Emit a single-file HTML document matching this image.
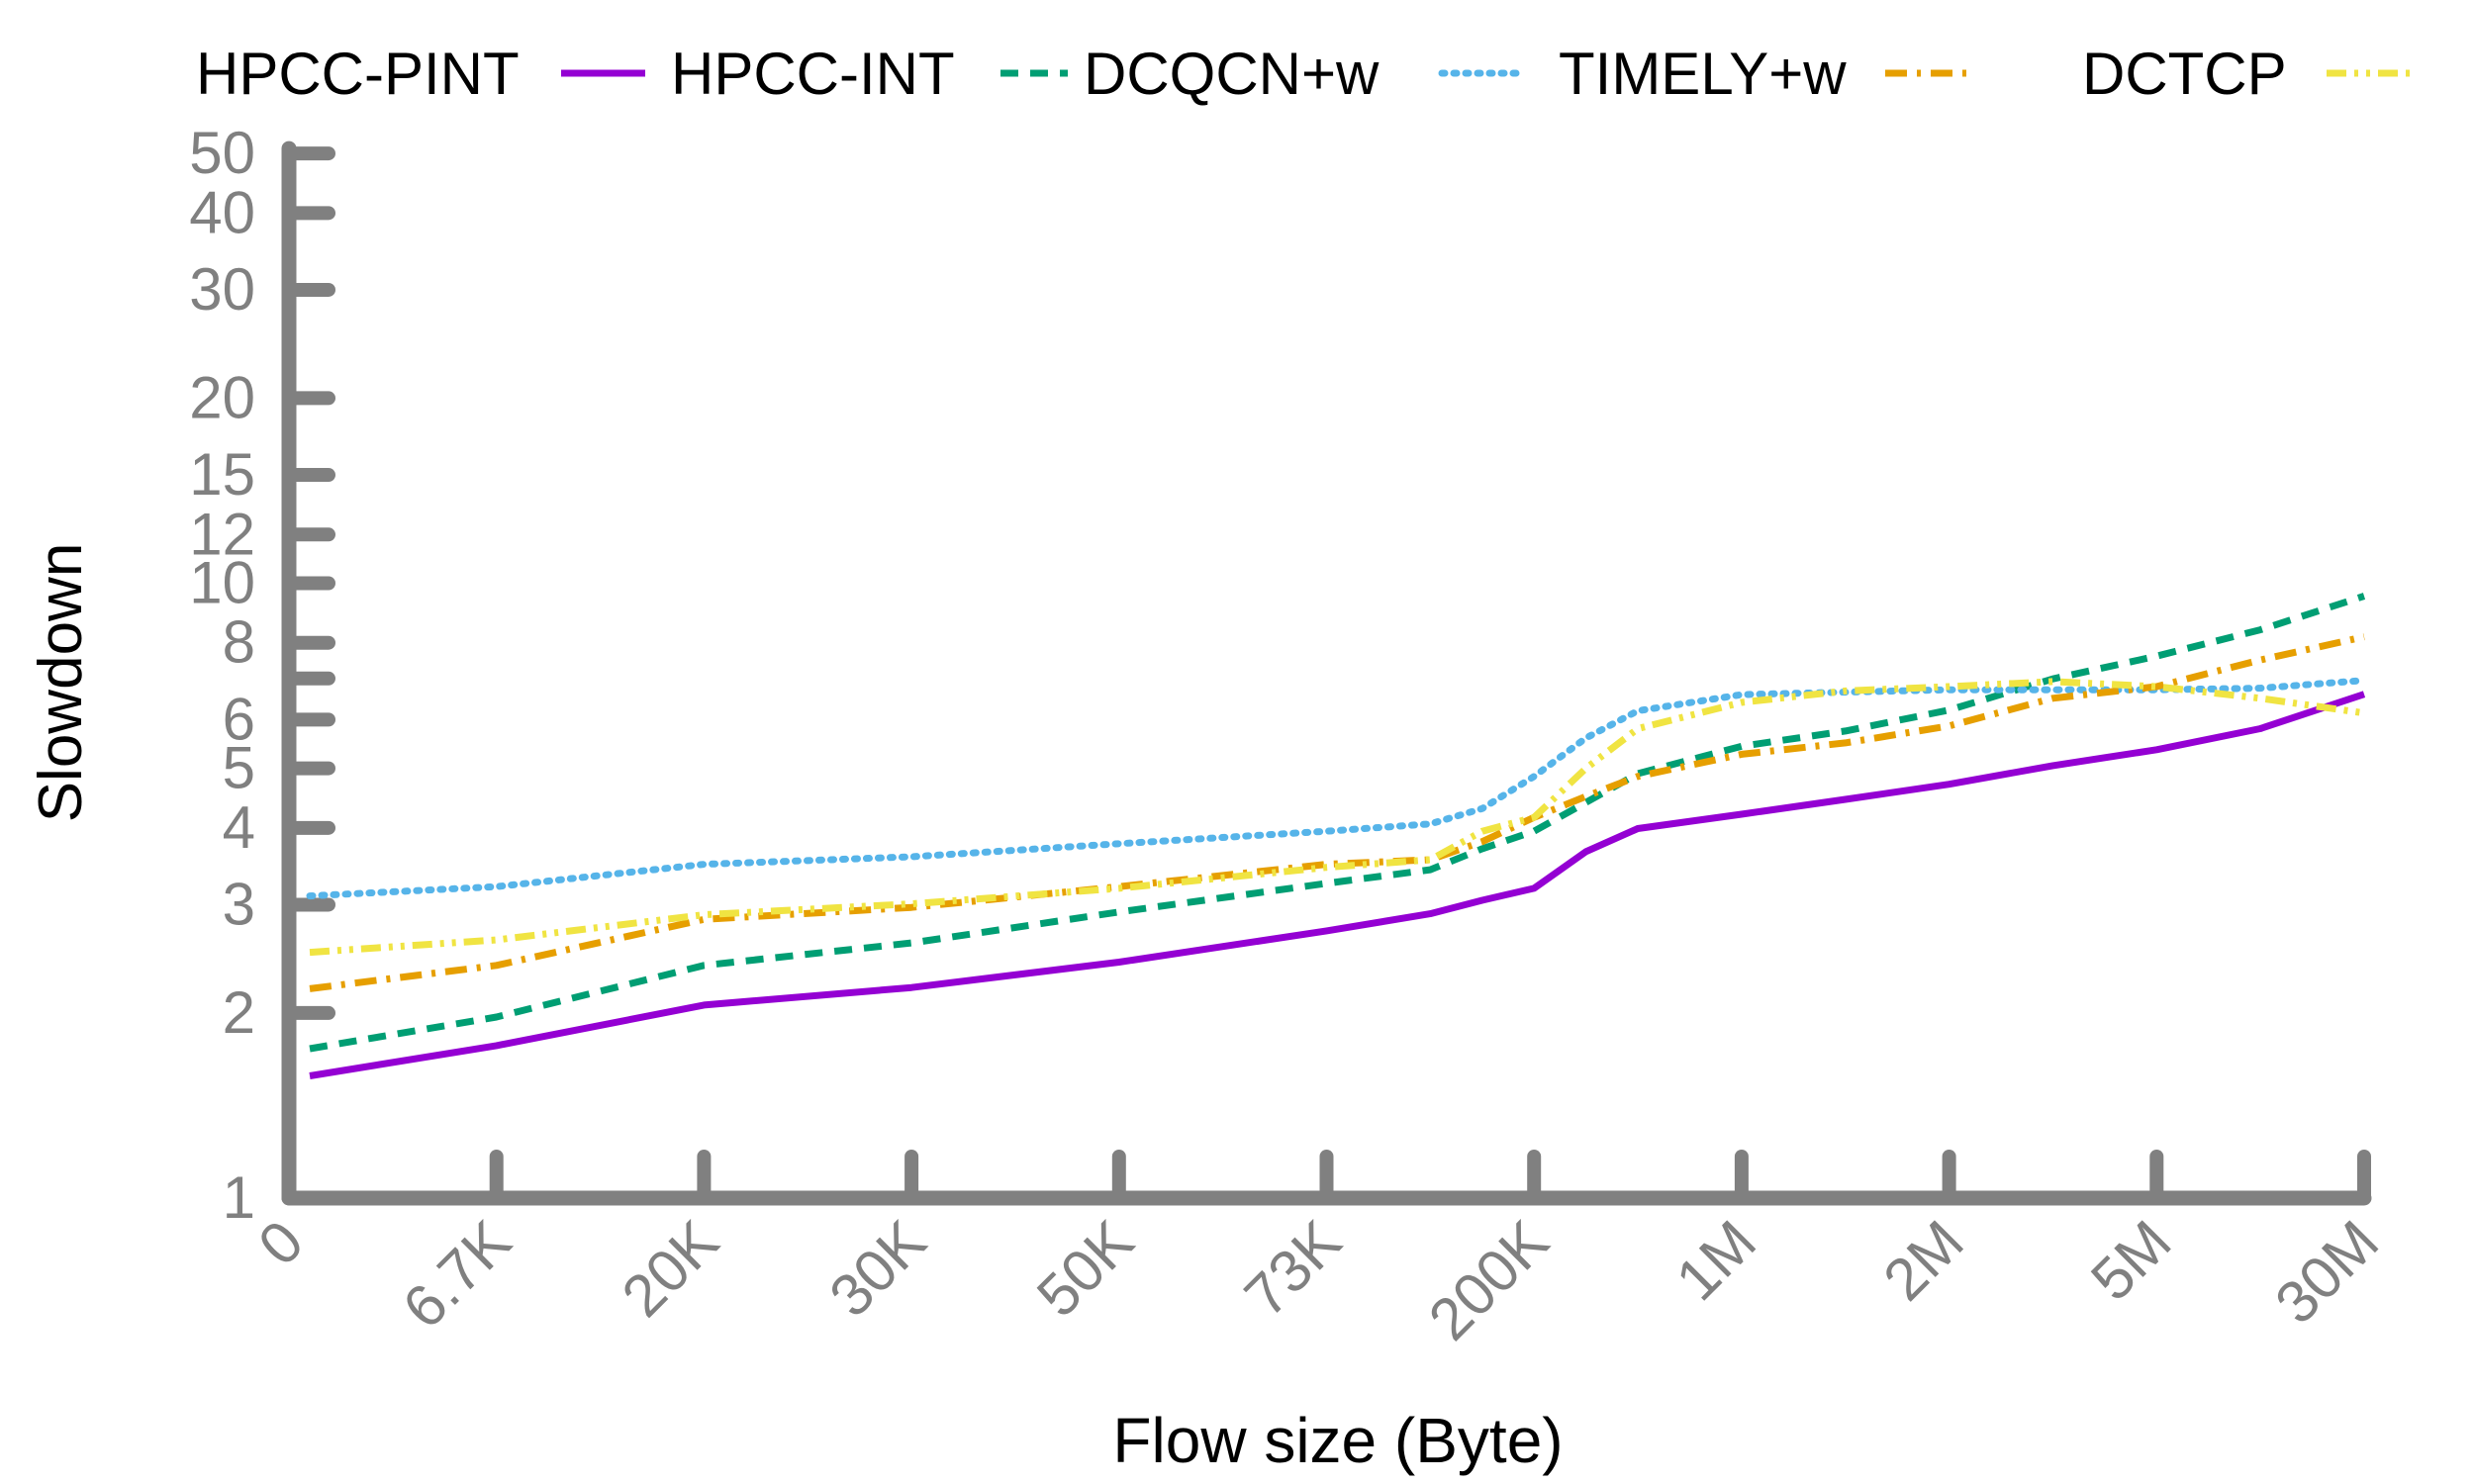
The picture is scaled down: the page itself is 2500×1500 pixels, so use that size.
<!DOCTYPE html>
<html><head><meta charset="utf-8"><style>
html,body{margin:0;padding:0;background:#fff;}
svg{display:block;font-family:"Liberation Sans",sans-serif;}
</style></head><body>
<svg id="chart" width="2500" height="1500" viewBox="0 0 2500 1500" xmlns="http://www.w3.org/2000/svg">
<g id="legend"></g>
<g id="axes"></g>
<g id="series"></g>
<text x="0" y="0" transform="translate(82,690) rotate(-90)" text-anchor="middle" font-size="62" fill="#000">Slowdown</text>
<text x="1352" y="1478" text-anchor="middle" font-size="64" fill="#000">Flow size (Byte)</text>
</svg>
<script>
const xTickLabels = ["0","6.7K","20K","30K","50K","73K","200K","1M","2M","5M","30M"];
const yTickValues = [1,2,3,4,5,6,7,8,10,12,15,20,30,40,50];
const yTickLabels = ["1","2","3","4","5","6","","8","10","12","15","20","30","40","50"];
const xPositions = [0.1,1,2,3,4,5,5.5,5.75,6,6.25,6.5,7,7.5,8,8.5,9,9.5,10];
const seriesNames = ["HPCC-PINT","HPCC-INT","DCQCN+w","TIMELY+w","DCTCP"];
const pintValues = [1.58,1.77,2.06,2.20,2.42,2.72,2.90,3.05,3.19,3.66,3.99,4.21,4.45,4.71,5.05,5.36,5.8,6.6];
const intValues = [1.75,1.97,2.39,2.60,2.92,3.25,3.42,3.7,3.95,4.4,4.9,5.43,5.75,6.22,6.99,7.61,8.4,9.53];
const dcqcnValues = [3.10,3.21,3.49,3.59,3.77,3.95,4.06,4.3,4.85,5.6,6.2,6.59,6.65,6.71,6.71,6.71,6.75,6.95];
const timelyValues = [2.19,2.39,2.84,2.97,3.21,3.49,3.55,3.8,4.16,4.5,4.85,5.27,5.5,5.86,6.5,6.79,7.5,8.18];
const dctcpValues = [2.51,2.63,2.89,3.01,3.19,3.45,3.55,3.95,4.16,5.0,5.8,6.4,6.68,6.79,6.92,6.79,6.5,6.15];

const NS="http://www.w3.org/2000/svg";
const X0=292, XSTEP=209.7, Y1=1211, DEC=621.5;
const xs=p=>X0+XSTEP*p;
const ys=v=>Y1-DEC*Math.log10(v);
function mk(tag,attrs,parent){const e=document.createElementNS(NS,tag);for(const k in attrs)e.setAttribute(k,attrs[k]);parent.appendChild(e);return e;}
const axes=document.getElementById('axes');
const G="#808080";
let ax=mk('line',{x1:X0,y1:ys(50)-5,x2:X0,y2:Y1,stroke:G,'stroke-width':15,'stroke-linecap':'round'},axes);


let bx=mk('line',{x1:X0,y1:Y1,x2:xs(10),y2:Y1,stroke:G,'stroke-width':15,'stroke-linecap':'round'},axes);


yTickValues.forEach((v,i)=>{
  const y=ys(v);
  if(v>1){const t=mk('line',{x1:X0,y1:y,x2:X0+40,y2:y,stroke:G,'stroke-width':14,'stroke-linecap':'round'},axes);
  
  }
  if(yTickLabels[i]){const l=mk('text',{x:258,y:y+20,'text-anchor':'end','font-size':60,fill:G},axes);
  l.textContent=yTickLabels[i];
  
  }
});
xTickLabels.forEach((s,i)=>{
  const x=xs(i);
  if(i>0){const t=mk('line',{x1:x,y1:Y1,x2:x,y2:Y1-42,stroke:G,'stroke-width':14,'stroke-linecap':'round'},axes);
  
  }
  const l=mk('text',{x:0,y:0,'text-anchor':'end','font-size':60,fill:G,transform:`translate(${x+18},${Y1+48}) rotate(-45)`},axes);
  l.textContent=s;
  
  
});
const styles=[
  {c:"#9400D3",d:""},
  {c:"#009E73",d:"18,12"},
  {c:"#56B4E9",d:"3,9"},
  {c:"#E69F00",d:"22,10,4,10"},
  {c:"#F0E442",d:"20,8,4,8,4,8"}];
const allValues=[pintValues,intValues,dcqcnValues,timelyValues,dctcpValues];
const sg=document.getElementById('series');
allValues.forEach((vals,si)=>{
  const d=vals.map((v,i)=>(i?'L':'M')+xs(xPositions[i]).toFixed(1)+','+ys(v).toFixed(1)).join(' ');
  const p=mk('path',{d:d,fill:'none',stroke:styles[si].c,'stroke-width':7,'stroke-linejoin':'round','stroke-linecap':si==2?'round':'butt'},sg);
  if(styles[si].d)p.setAttribute('stroke-dasharray',styles[si].d);
  
  
});
const lg=document.getElementById('legend');
const legTextX=[198,678,1095,1575,2104];
const legLine=[[567,652],[1011,1079],[1457,1538],[1905,1996],[2351,2440]];
seriesNames.forEach((n,i)=>{
  const t=mk('text',{x:legTextX[i],y:95,'font-size':60,fill:'#000'},lg);
  t.textContent=n;
  
  
  const l=mk('line',{x1:legLine[i][0],y1:74,x2:legLine[i][1],y2:74,stroke:styles[i].c,'stroke-width':7,'stroke-linecap':i==2?'round':'butt'},lg);
  if(styles[i].d)l.setAttribute('stroke-dasharray',styles[i].d);
  
  
});
</script>
</body></html>
